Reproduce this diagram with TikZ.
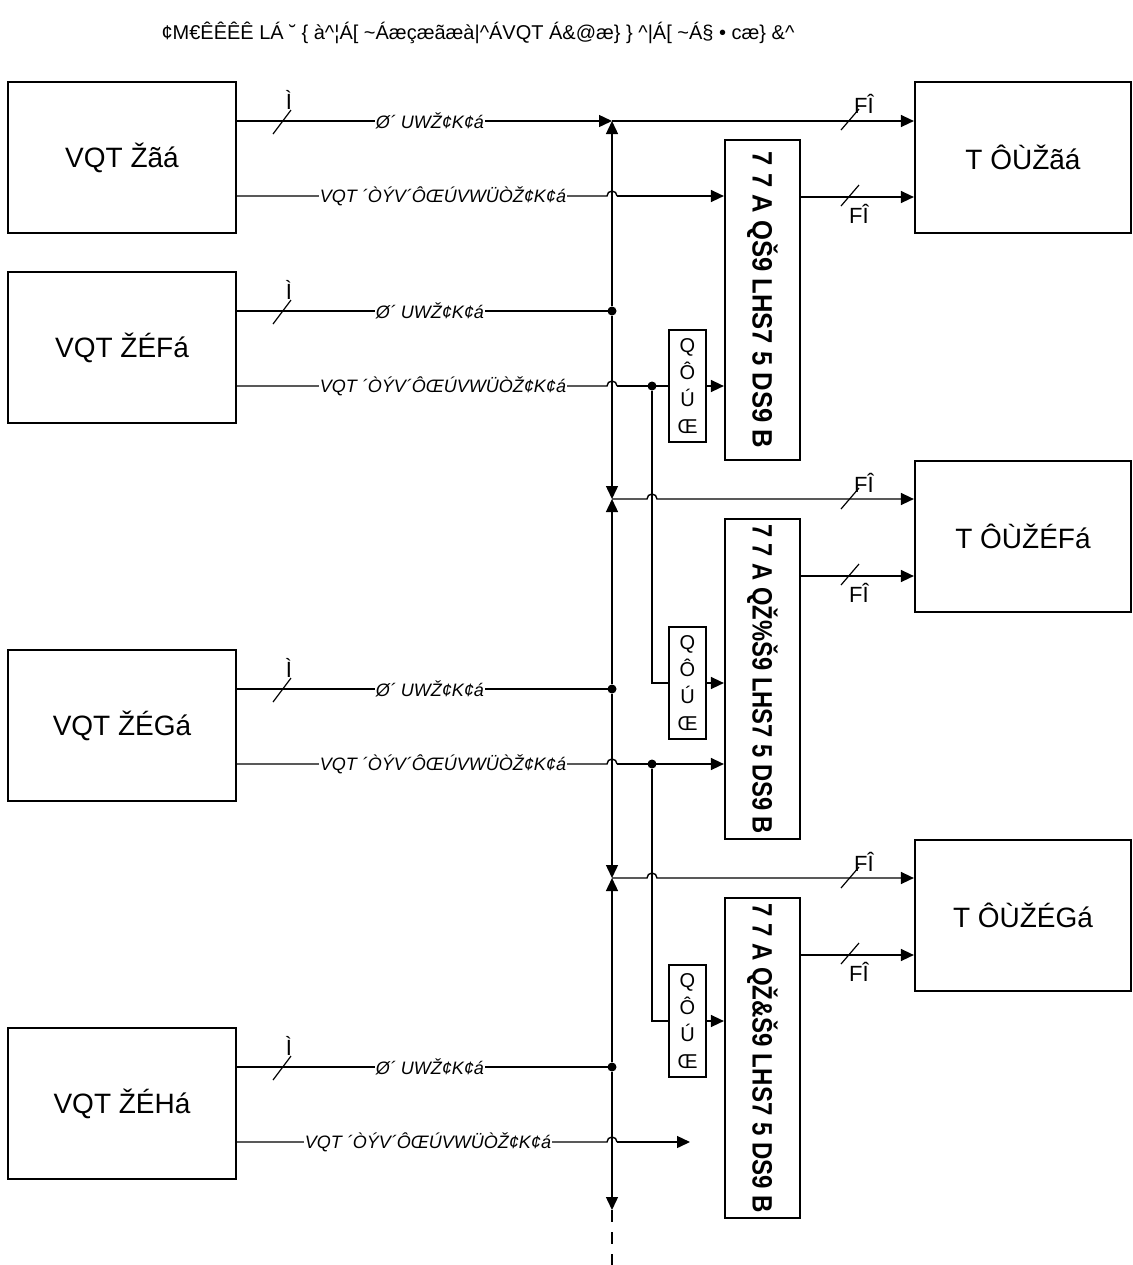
\documentclass[tikz,border=0pt]{standalone}
\usepackage{fontspec}
\setmainfont{Liberation Sans}
\usetikzlibrary{arrows.meta}

\begin{document}
\begin{tikzpicture}
    [x=0.5pt, y=-0.5pt,
    % Styles
    box/.style={draw, line width=1.1pt, inner sep=0pt},
    source box/.style={box, minimum width=114pt, minimum height=75.5pt, font=\fontsize{14}{16}\selectfont},
    mcu box/.style={box, minimum width=108pt, minimum height=75.5pt, font=\fontsize{14}{16}\selectfont},
    fpga box/.style={box, minimum width=37.5pt, minimum height=160pt, font=\bfseries\fontsize{14}{16}\selectfont},
    delay box/.style={box, line width=0.9pt, minimum width=18.5pt, minimum height=56pt, align=center, font=\fontsize{10}{13.5}\selectfont},
    signal line/.style={line width=0.7pt},
    arrow line/.style={signal line, -{Triangle[length=6.5pt, width=6pt]}},
    line label/.style={fill=white, inner sep=0.5pt, font=\itshape\fontsize{9}{10}\selectfont},
    width mark/.style={line width=0.6pt},
    width text/.style={inner sep=0pt, font=\fontsize{11}{12}\selectfont},
    junction/.style={circle, fill, inner sep=0pt, minimum size=4.5pt},
    title text/.style={inner sep=0pt, font=\fontsize{10}{12}\selectfont}]

    \useasboundingbox (0,0) rectangle (1133,1265);

    % Title
    \node[title text] (title) at (478,33) {¢M€ÊÊÊÊ LÁ ˘ \{ à\textasciicircum¦Á[ \textasciitilde Áæçæãæà|\textasciicircum ÁVQT Á\&@æ\} \} \textasciicircum|Á[ \textasciitilde Á§ • cæ\} \&\textasciicircum};

    % Bus coordinates
    \coordinate (bus1) at (612,121);
    \coordinate (bus2) at (612,499);
    \coordinate (bus3) at (612,878);
    \coordinate (busend) at (612,1210);
    \coordinate (busopen) at (612,1265);
    \coordinate (open4) at (690,1142);

    % Sources
    \foreach \i/\t/\txt/\lx/\ustyle in {1/82/{VQT Žãá}/443/arrow line, 2/272/{VQT ŽÉFá}/443/signal line,
                                        3/650/{VQT ŽÉGá}/443/signal line, 4/1028/{VQT ŽÉHá}/428/signal line}
    {
        \node[source box] (src\i) at (122,\t+75.5) {\txt};
        \draw[\ustyle] (src\i.east |- 0,\t+39) -- (612,\t+39) coordinate (tap\i);
        \node[line label] (ulab\i) at (430,\t+39) {Ø´ UWŽ¢K¢á};
        \draw[width mark] (273,\t+52) -- (291,\t+28);
        \node[width text] (ubits\i) at (289,\t+17.5) {Ì};
        % lower line hops over the bus
        \draw[signal line] (src\i.east |- 0,\t+114) -- (607,\t+114)
            arc[start angle=180, end angle=360, radius=5] coordinate (hop\i);
        \node[line label] (llab\i) at (\lx,\t+114) {VQT ´ÒÝV´ÔŒÚVWÜÒŽ¢K¢á};
    }

    \foreach \i in {2,3,4}
        \node[junction] (dot\i) at (tap\i) {};

    % Bus
    \draw[arrow line] (dot2) -- (bus1);
    \draw[arrow line] (dot2) -- (bus2);
    \draw[arrow line] (dot3) -- (bus2);
    \draw[arrow line] (dot3) -- (bus3);
    \draw[arrow line] (dot4) -- (bus3);
    \draw[arrow line] (dot4) -- (busend);
    \draw[signal line, dash pattern=on 6pt off 5pt] (busend) -- (busopen);

    % MCUs and FPGAs
    \foreach \i/\t/\txt/\flen/\ftxt in {1/82/{T ÔÙŽãá}/148pt/{7 7 A QŠ9 LHS7 5 DS9 B},
                                        2/461/{T ÔÙŽÉFá}/155pt/{7 7 A QŽ\%Š9 LHS7 5 DS9 B},
                                        3/840/{T ÔÙŽÉGá}/155pt/{7 7 A QŽ\&Š9 LHS7 5 DS9 B}}
    {
        \node[mcu box] (mcu\i) at (1023,\t+75.5) {\txt};
        \node[fpga box] (fpga\i) at (762.5,\t+218) {\rotatebox{-90}{\resizebox{\flen}{\height}{\ftxt}}};
        \draw[arrow line] (fpga\i.east |- 0,\t+115) -- (mcu\i.west |- 0,\t+115);
        \draw[width mark] (841,\t+124) -- (859,\t+103);
        \node[width text] (obits\i) at (859,\t+132) {FÎ};
        \draw[width mark] (841,\t+48) -- (859,\t+27);
        \node[width text] (ibits\i) at (864,\t+22) {FÎ};
    }

    \draw[arrow line] (bus1) -- (mcu1.west |- bus1);
    \draw[arrow line] (bus2) -- (647,499) arc[start angle=180, end angle=360, radius=5] -- (mcu2.west |- bus2);
    \draw[arrow line] (bus3) -- (647,878) arc[start angle=180, end angle=360, radius=5] -- (mcu3.west |- bus3);

    % Delay elements
    \foreach \i/\yc in {1/386, 2/683, 3/1021}
        \node[delay box] (dly\i) at (687.5,\yc) {Q\\Ô\\Ú\\Œ};

    \node[junction] (tee1) at (652,386) {};
    \node[junction] (tee2) at (652,764) {};

    \draw[arrow line] (hop1) -- (fpga1.west |- hop1);
    \draw[signal line] (hop2) -- (dly1.west);
    \draw[arrow line] (dly1.east) -- (fpga1.west |- dly1.east);
    \draw[signal line] (tee1) -- (tee1 |- dly2.west) -- (dly2.west);
    \draw[arrow line] (dly2.east) -- (fpga2.west |- dly2.east);
    \draw[arrow line] (hop3) -- (fpga2.west |- hop3);
    \draw[signal line] (tee2) -- (tee2 |- dly3.west) -- (dly3.west);
    \draw[arrow line] (dly3.east) -- (fpga3.west |- dly3.east);
    \draw[arrow line] (hop4) -- (open4);

\end{tikzpicture}
\end{document}
